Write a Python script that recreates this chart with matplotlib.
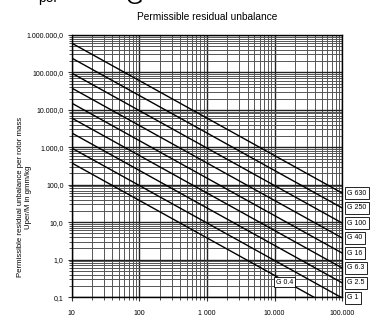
import matplotlib
matplotlib.use('Agg')
import matplotlib.pyplot as plt
from matplotlib.ticker import FixedLocator, LogLocator, NullFormatter

plt.rcParams['font.family'] = ['Liberation Sans', 'DejaVu Sans']

# balance quality grades
grades = ['G 630', 'G 250', 'G 100', 'G 40', 'G 16', 'G 6.3', 'G 2.5', 'G 1', 'G 0.4']
speed_ends = [10, 100000]                      # rpm
u_at_10 = [600000, 240000, 95000, 38000, 15000, 6000, 2400, 950, 380]
u_at_100k = [60, 24, 9.5, 3.8, 1.5, 0.6, 0.24, 0.095, 0.038]

x_ticks = [10, 100, 1000, 10000, 100000]
x_ticklabels = ['10', '100', '1 000', '10.000', '100.000']
y_ticks = [0.1, 1, 10, 100, 1000, 10000, 100000, 1000000]
y_ticklabels = ['0,1', '1,0', '10,0', '100,0', '1.000,0', '10.000,0',
                '100.000,0', '1.000.000,0']

fig = plt.figure(figsize=(3.78, 3.29), dpi=100)
ax = fig.add_axes([0.190, 0.097, 0.715, 0.797])

ax.set_xscale('log')
ax.set_yscale('log')
ax.set_xlim(10, 100000)
ax.set_ylim(0.1, 1000000)

# grid like the scanned paper
ax.xaxis.set_minor_locator(LogLocator(base=10, subs=range(2, 10)))
ax.yaxis.set_minor_locator(LogLocator(base=10, subs=range(2, 10)))
ax.xaxis.set_minor_formatter(NullFormatter())
ax.yaxis.set_minor_formatter(NullFormatter())
ax.grid(which='major', color='#222222', lw=1.0)
ax.grid(which='minor', color='#555555', lw=0.7)
ax.set_axisbelow(True)

for i, g in enumerate(grades):
    ax.plot(speed_ends, [u_at_10[i], u_at_100k[i]], color='black', lw=1.0)
    if g == 'G 0.4':
        ax.text(14000, 0.25, g, fontsize=5, ha='center', va='center',
                bbox=dict(boxstyle='square,pad=0.25', fc='white', ec='black', lw=0.6))
    else:
        ax.annotate(g, xy=(100000, u_at_100k[i]), xytext=(3.5, 0),
                    textcoords='offset points', fontsize=5, va='center', ha='left',
                    annotation_clip=False,
                    bbox=dict(boxstyle='square,pad=0.35', fc='white', ec='black', lw=0.6))

ax.xaxis.set_major_locator(FixedLocator(x_ticks))
ax.yaxis.set_major_locator(FixedLocator(y_ticks))
ax.set_xticklabels(x_ticklabels)
ax.set_yticklabels(y_ticklabels)
ax.tick_params(axis='both', which='major', labelsize=5, length=3, pad=6, color='#333333')
ax.tick_params(axis='y', which='major', pad=3)
ax.tick_params(axis='both', which='minor', length=2, color='#333333')
for s in ax.spines.values():
    s.set_color('black')
    s.set_linewidth(1.0)

ax.set_title('Permissible residual unbalance', fontsize=7.3, pad=11)
fig.text(25 / 378, 1 - 197 / 329,
         'Permissible residual unbalance per rotor mass\nUper/M in gmm/kg',
         fontsize=5.6, rotation=90, ha='center', va='center',
         multialignment='center', linespacing=1.2)
ax.set_xlabel('Rotation speed in rpm', fontsize=6, labelpad=12)

# fragments of the page above, cut off at the top edge
fig.text(0.10, 1.006, 'per', fontsize=10, ha='left', va='center')
fig.text(0.333, 1.004, 'G', fontsize=16, ha='left', va='center')

fig.savefig('out.png', dpi=100)
